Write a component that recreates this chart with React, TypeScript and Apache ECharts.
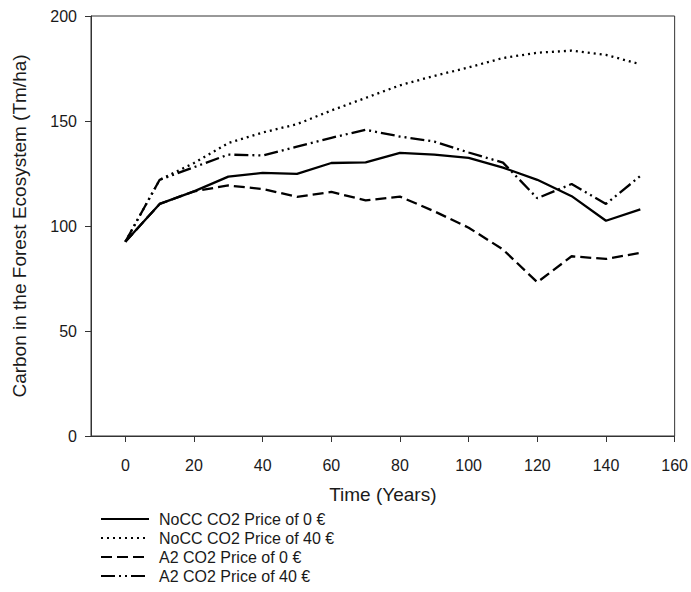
import React, { useEffect, useRef } from "react";
import * as echarts from "echarts";

const years = [0, 10, 20, 30, 40, 50, 60, 70, 80, 90, 100, 110, 120, 130, 140, 150];
const noccPrice0 = [92.5, 110.5, 116.5, 123.5, 125.3, 124.8, 130, 130.3, 134.8, 134, 132.4, 127.8, 122, 114.2, 102.5, 107.9];
const noccPrice40 = [92.5, 122, 130, 139.5, 144.5, 148.5, 155, 161, 167, 171.5, 175.5, 180, 182.5, 183.5, 181.5, 177];
const a2Price0 = [92.5, 110.5, 116.5, 119.3, 117.6, 113.9, 116.2, 112.2, 114, 107, 99.2, 88.8, 73.2, 85.6, 84.3, 87.2];
const a2Price40 = [92.5, 122, 128, 134, 133.6, 137.8, 142, 145.8, 142.6, 140.2, 135, 130.2, 113.2, 120, 110.5, 123.8];
const xTicks = [0, 20, 40, 60, 80, 100, 120, 140, 160];
const seriesNames = ["NoCC CO2 Price of 0 €", "NoCC CO2 Price of 40 €", "A2 CO2 Price of 0 €", "A2 CO2 Price of 40 €"];

const FONT = "Liberation Sans, Arial, sans-serif";
const INK = "#1a1a1a";

export default function App() {
  const ref = useRef<HTMLDivElement>(null);
  useEffect(() => {
    document.body.style.margin = "0";
    if (!ref.current) return;
    const chart = echarts.init(ref.current, undefined, { renderer: "svg" });
    const pair = (vals: number[]) => years.map((y, i) => [y, vals[i]]);
    const mk = (name: string, vals: number[], type: any) => ({
      name,
      type: "line",
      data: pair(vals),
      symbol: "none",
      lineStyle: { color: "#000", width: 2.3, type },
      itemStyle: { color: "#000" },
    });
    chart.setOption({
      animation: false,
      textStyle: { fontFamily: FONT },
      grid: {
        left: 91,
        right: 15,
        top: 16,
        bottom: 156,
        show: true,
        borderColor: "#333",
        borderWidth: 1,
        backgroundColor: "transparent",
      },
      xAxis: {
        type: "value",
        min: -10,
        max: 160,
        name: "Time (Years)",
        nameLocation: "middle",
        nameGap: 49,
        nameTextStyle: { fontSize: 19, color: INK, fontFamily: FONT },
        axisLine: { show: true, lineStyle: { color: "#333", width: 1 } },
        axisTick: { show: true, inside: false, length: 6, customValues: xTicks, lineStyle: { color: "#333" } },
        axisLabel: { customValues: xTicks, fontSize: 16, color: INK, margin: 21, fontFamily: FONT },
        splitLine: { show: false },
      },
      yAxis: {
        type: "value",
        min: 0,
        max: 200,
        interval: 50,
        name: "Carbon in the Forest Ecosystem (Tm/ha)",
        nameLocation: "middle",
        nameGap: 62,
        nameTextStyle: { fontSize: 19, color: INK, fontFamily: FONT },
        axisLine: { show: true, onZero: false, lineStyle: { color: "#333", width: 1 } },
        axisTick: { show: true, inside: false, length: 6, lineStyle: { color: "#333" } },
        axisLabel: { fontSize: 16, color: INK, margin: 14, fontFamily: FONT },
        splitLine: { show: false },
      },
      legend: {
        orient: "vertical",
        left: 100,
        top: 510,
        padding: 0,
        height: 80,
        itemWidth: 48,
        itemHeight: 10,
        itemGap: 1,
        data: seriesNames,
        itemStyle: { opacity: 0 },
        textStyle: { fontSize: 16, color: INK, fontFamily: FONT, lineHeight: 18, padding: [0, 0, 0, 5] },
      },
      series: [
        mk(seriesNames[0], noccPrice0, "solid"),
        mk(seriesNames[1], noccPrice40, [2, 4]),
        mk(seriesNames[2], a2Price0, [11, 5]),
        mk(seriesNames[3], a2Price40, [14, 4, 2, 4, 2, 4]),
      ],
    });
    return () => chart.dispose();
  }, []);
  return <div ref={ref} style={{ width: 691, height: 592 }} />;
}
